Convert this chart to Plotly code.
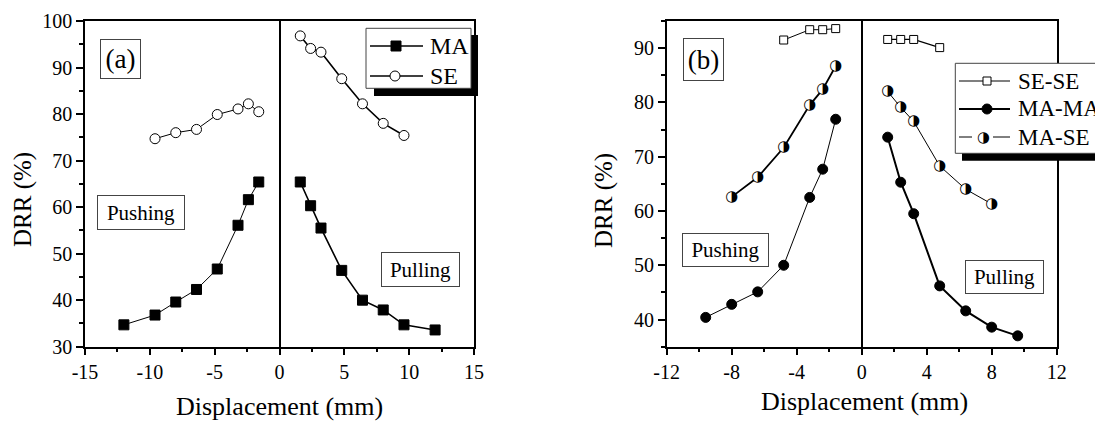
import plotly.graph_objects as go

# page has an 8px body margin; the figure is sized so the page is 1103x423
W, H = 1095, 415
OFF = 8

# ---------------- Panel (a) data ----------------
a_push_x_ma = [-12, -9.6, -8, -6.4, -4.8, -3.2, -2.4, -1.6]
a_push_ma = [34.7, 36.8, 39.6, 42.3, 46.7, 56.1, 61.6, 65.4]
a_pull_x_ma = [1.6, 2.4, 3.2, 4.8, 6.4, 8, 9.6, 12]
a_pull_ma = [65.4, 60.3, 55.5, 46.4, 40.0, 37.9, 34.7, 33.6]
a_push_x_se = [-9.6, -8, -6.4, -4.8, -3.2, -2.4, -1.6]
a_push_se = [74.7, 76.0, 76.7, 79.9, 81.1, 82.2, 80.5]
a_pull_x_se = [1.6, 2.4, 3.2, 4.8, 6.4, 8, 9.6]
a_pull_se = [96.8, 94.1, 93.3, 87.6, 82.2, 78.0, 75.4]

# ---------------- Panel (b) data ----------------
b_push_x_sese = [-4.8, -3.2, -2.4, -1.6]
b_push_sese = [91.5, 93.4, 93.4, 93.6]
b_pull_x_sese = [1.6, 2.4, 3.2, 4.8]
b_pull_sese = [91.6, 91.6, 91.6, 90.1]
b_push_x_mama = [-9.6, -8, -6.4, -4.8, -3.2, -2.4, -1.6]
b_push_mama = [40.4, 42.8, 45.1, 50.0, 62.5, 67.7, 76.9]
b_pull_x_mama = [1.6, 2.4, 3.2, 4.8, 6.4, 8, 9.6]
b_pull_mama = [73.6, 65.3, 59.5, 46.2, 41.6, 38.6, 37.0]
b_push_x_mase = [-8, -6.4, -4.8, -3.2, -2.4, -1.6]
b_push_mase = [62.6, 66.2, 71.7, 79.5, 82.4, 86.7]
b_pull_x_mase = [1.6, 2.4, 3.2, 4.8, 6.4, 8]
b_pull_mase = [82.0, 79.1, 76.5, 68.3, 64.0, 61.3]

a_xticks = [-15, -10, -5, 0, 5, 10, 15]
b_xticks = [-12, -8, -4, 0, 4, 8, 12]

a_legend = ["MA", "SE"]
b_legend = ["SE-SE", "MA-MA", "MA-SE"]

SERIF = "Liberation Serif, Times New Roman, Times, serif"
HALF = "\u25D1"


def px(x):
    return (x - OFF) / W


def py(y):
    return 1 - (y - OFF) / H


fig = go.Figure()


def add(x, y, xa, ya, name, sym, fill, lw, size, lcol="black"):
    fig.add_trace(go.Scatter(
        x=x, y=y, xaxis=xa, yaxis=ya, name=name, mode="lines+markers",
        line=dict(color="black", width=lw),
        marker=dict(symbol=sym, size=size, color=fill,
                    line=dict(color=lcol, width=1)),
        showlegend=False, hoverinfo="x+y"))


# panel (a)
add(a_push_x_ma, a_push_ma, "x", "y", "MA", "square", "black", 1, 10)
add(a_pull_x_ma, a_pull_ma, "x", "y", "MA", "square", "black", 1.6, 10)
add(a_push_x_se, a_push_se, "x", "y", "SE", "circle", "white", 1, 10)
add(a_pull_x_se, a_pull_se, "x", "y", "SE", "circle", "white", 1.6, 10)

# panel (b)
add(b_push_x_sese, b_push_sese, "x2", "y2", "SE-SE", "square", "white", 1, 8)
add(b_pull_x_sese, b_pull_sese, "x2", "y2", "SE-SE", "square", "white", 1.2, 8)
add(b_push_x_mama, b_push_mama, "x2", "y2", "MA-MA", "circle", "black", 1, 10)
add(b_pull_x_mama, b_pull_mama, "x2", "y2", "MA-MA", "circle", "black", 2, 10)
add(b_push_x_mase, b_push_mase, "x2", "y2", "MA-SE", "circle", "white", 1.8, 9, "white")
add(b_pull_x_mase, b_pull_mase, "x2", "y2", "MA-SE", "circle", "white", 1, 9, "white")

# half-filled glyph overlay for MA-SE
for xs, ys in [(b_push_x_mase, b_push_mase), (b_pull_x_mase, b_pull_mase)]:
    fig.add_trace(go.Scatter(
        x=xs, y=ys, xaxis="x2", yaxis="y2", mode="text",
        text=[HALF] * len(xs), textposition="middle center",
        textfont=dict(family="DejaVu Sans", size=15, color="black"),
        showlegend=False, hoverinfo="skip"))

axis_common = dict(
    showline=True, linecolor="black", linewidth=1.5, mirror=True,
    ticks="outside", ticklen=7, tickwidth=1.5, tickcolor="black",
    tickfont=dict(family=SERIF, size=20, color="black"),
    showgrid=False, zeroline=False,
)


def xa(domain, rng, ticks, minor_dtick, anchor):
    d = dict(axis_common)
    d.update(domain=domain, range=rng, tickmode="array", tickvals=ticks,
             ticktext=[str(t) for t in ticks], anchor=anchor,
             zeroline=True, zerolinecolor="black", zerolinewidth=2,
             minor=dict(ticks="outside", ticklen=4, tickwidth=1.5,
                        tickcolor="black", dtick=minor_dtick, tick0=0, showgrid=False))
    return d


def ya(domain, rng, anchor):
    d = dict(axis_common)
    d.update(domain=domain, range=rng, dtick=10, tick0=0, anchor=anchor,
             minor=dict(ticks="outside", ticklen=4, tickwidth=1.5,
                        tickcolor="black", dtick=5, tick0=0, showgrid=False))
    return d


ydom = [py(346.7), py(21)]
fig.update_layout(
    width=W, height=H,
    margin=dict(l=0, r=0, t=0, b=0, autoexpand=False),
    paper_bgcolor="white", plot_bgcolor="white",
    font=dict(family=SERIF, color="black"),
    xaxis=xa([px(85), px(474)], [-15, 15], a_xticks, 2.5, "y"),
    yaxis=ya(ydom, [30, 100], "x"),
    xaxis2=xa([px(666.7), px(1056.7)], [-12, 12], b_xticks, 2, "y2"),
    yaxis2=ya(ydom, [35, 95], "x2"),
    showlegend=False,
)


def rect(x0, y0, x1, y1, fill, lw=0, lc="black"):
    fig.add_shape(type="rect", xref="paper", yref="paper",
                  x0=px(x0), x1=px(x1), y0=py(y1), y1=py(y0),
                  fillcolor=fill, line=dict(width=lw, color=lc), layer="above")


def hline(x0, x1, y, lw):
    fig.add_shape(type="line", xref="paper", yref="paper",
                  x0=px(x0), x1=px(x1), y0=py(y), y1=py(y),
                  line=dict(color="black", width=lw), layer="above")


def circ(cx, cy, r, fill):
    fig.add_shape(type="circle", xref="paper", yref="paper",
                  x0=px(cx - r), x1=px(cx + r), y0=py(cy + r), y1=py(cy - r),
                  fillcolor=fill, line=dict(color="black", width=1), layer="above")


def label(text, x, y, size=24, anchor="left"):
    fig.add_annotation(text=text, xref="paper", yref="paper", x=px(x), y=py(y),
                       showarrow=False, xanchor=anchor, yanchor="middle",
                       font=dict(family=SERIF, size=size, color="black"))


# ---- legend (a) ----
rect(374, 35, 478, 96, "black")
rect(366, 28.3, 471, 88.3, "white", 1, "#444")
hline(370, 423, 46, 1.5)
rect(391, 41, 401, 51, "black", 1)
label(a_legend[0], 428, 46)
hline(370, 423, 76, 1.5)
circ(395, 76, 5, "white")
label(a_legend[1], 428, 76)

# ---- legend (b) ----
rect(962, 70, 1120, 160.7, "black")
rect(955.3, 63.3, 1120, 153.3, "white", 1, "#444")
hline(959, 1010, 81, 1.2)
rect(983, 77, 991, 85, "white", 1)
label(b_legend[0], 1016, 81, 23)
hline(959, 1010, 109, 2)
circ(987, 109, 5, "black")
label(b_legend[1], 1016, 109, 23)
hline(959, 972, 137, 1)
hline(993, 1010, 137, 1)
fig.add_annotation(text=HALF, xref="paper", yref="paper", x=px(983), y=py(137),
                   showarrow=False, xanchor="center", yanchor="middle",
                   font=dict(family="DejaVu Sans", size=15, color="black"))
label(b_legend[2], 1016, 137, 23)


# boxed labels
def box(text, xref, yref, x, y, w, h, size):
    fig.add_annotation(text=text, xref=xref, yref=yref, x=x, y=y,
                       showarrow=False, xanchor="center", yanchor="middle",
                       font=dict(family=SERIF, size=size, color="black"),
                       bordercolor="#444", borderwidth=1, bgcolor="white",
                       width=w, height=h, borderpad=0)


box("(a)", "x domain", "y domain", 0.091, 0.883, 39, 38, 27)
box("Pushing", "x domain", "y domain", 0.1445, 0.412, 86, 33, 21)
box("Pulling", "x domain", "y domain", 0.8625, 0.236, 77, 33, 21)
box("(b)", "x2 domain", "y2 domain", 0.0949, 0.883, 39, 41, 27)
box("Pushing", "x2 domain", "y2 domain", 0.1495, 0.298, 85, 32, 21)
box("Pulling", "x2 domain", "y2 domain", 0.867, 0.2134, 77, 32, 21)

# axis titles
for xc, yc in [(279, 406), (864, 401)]:
    label("Displacement (mm)", xc, yc, 26, "center")
for xc in [23, 604]:
    fig.add_annotation(text="DRR (%)", xref="paper", yref="paper",
                       x=px(xc), y=py(200), showarrow=False, textangle=-90,
                       xanchor="center", yanchor="middle",
                       font=dict(family=SERIF, size=25, color="black"))

fig.write_html("out.html")
